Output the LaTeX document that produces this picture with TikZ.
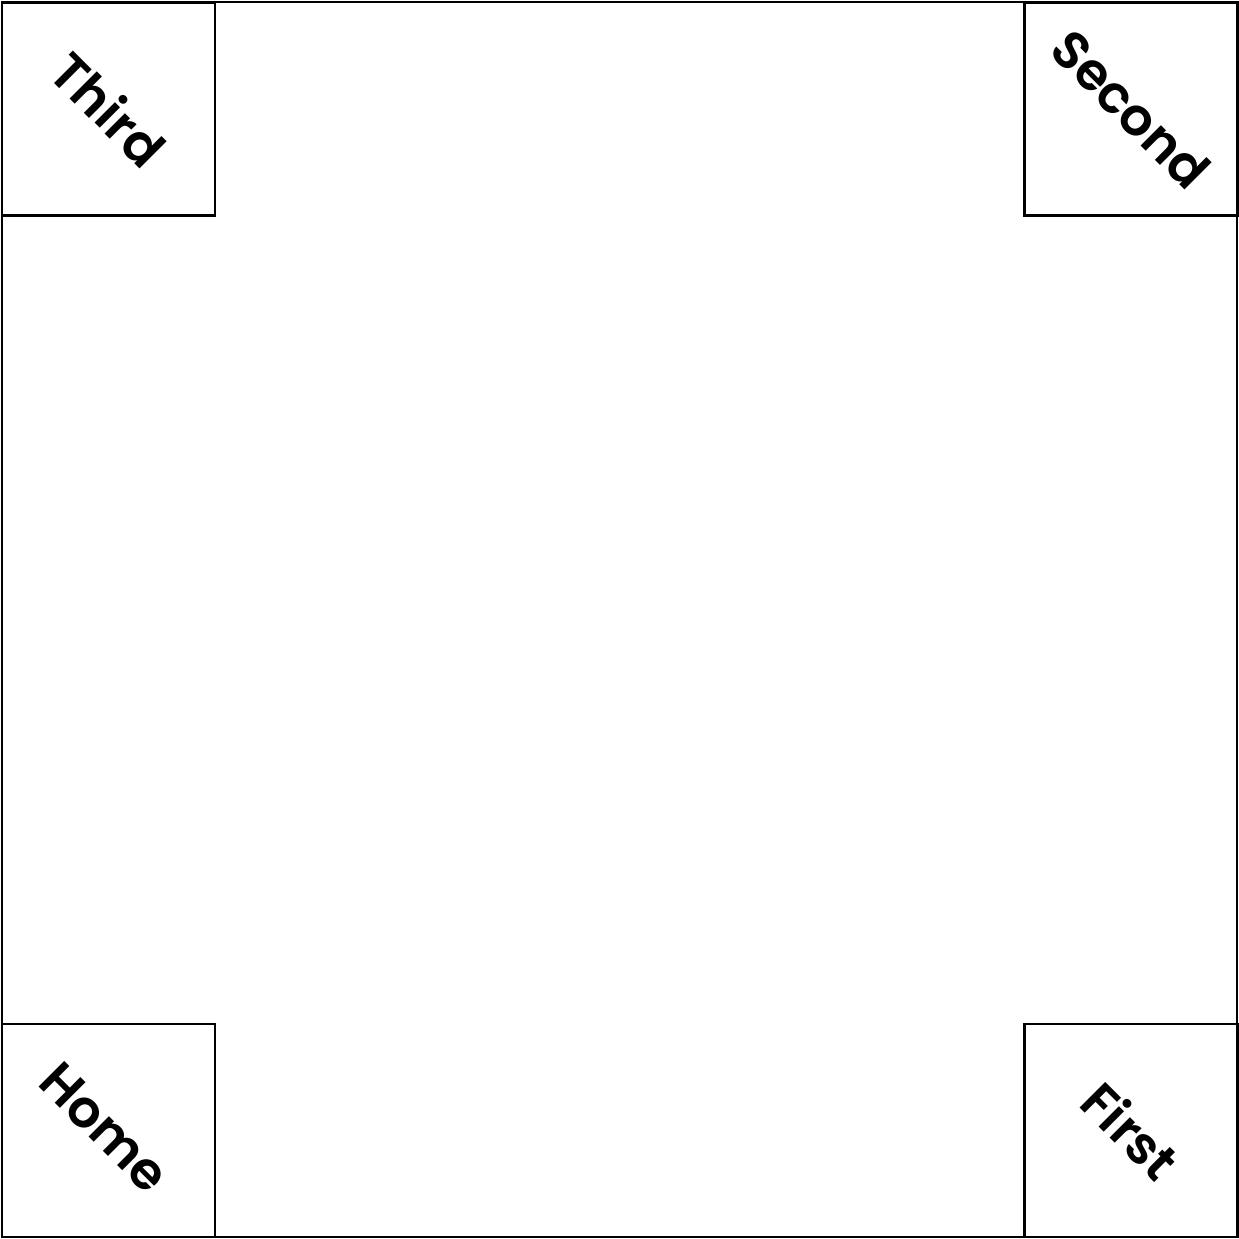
\documentclass[tikz,border=0pt]{standalone}
\usepackage{fontspec}
\setmainfont{Poppins}[BoldFont={Poppins SemiBold}]
\begin{document}
\begin{tikzpicture}[
  base/.style={draw, line width=0.8pt, minimum size=2.13cm, inner sep=0pt},
  lbl/.style={rotate=-45, font=\fontsize{14.8}{18}\selectfont\bfseries}]
  \useasboundingbox (0,0) rectangle (12.39,12.39);
  \draw[line width=0.8pt] (0.02,0.02) rectangle (12.37,12.37);
  % corner bases
  \node[base] (third) at (1.085,11.30) {};
  \node[base] (second) at (11.31,11.30) {};
  \node[base] (home) at (1.085,1.085) {};
  \node[base] (first) at (11.31,1.085) {};
  \node[lbl] (thirdlbl) at (third) {Third};
  \node[lbl] (secondlbl) at (second) {Second};
  \node[lbl] (homelbl) at ([shift={(-0.04,0.03)}]home) {Home};
  \node[lbl] (firstlbl) at (first) {First};
\end{tikzpicture}
\end{document}
